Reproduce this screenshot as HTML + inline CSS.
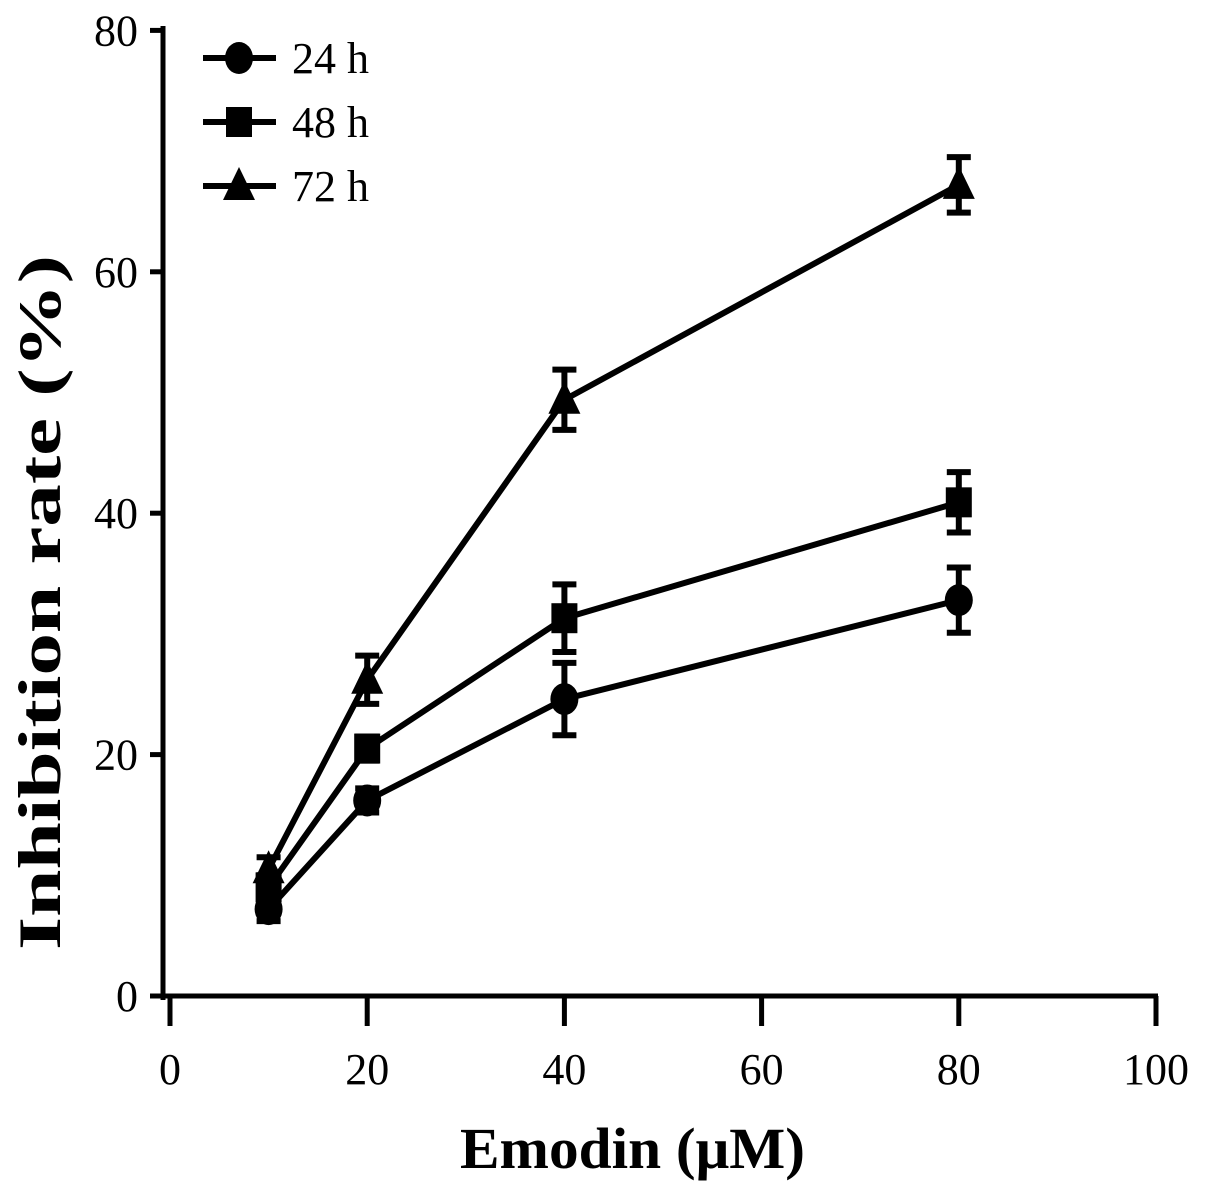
<!DOCTYPE html>
<html><head><meta charset="utf-8"><style>
html,body{margin:0;padding:0;background:#fff;}
svg text{font-family:"Liberation Serif",serif;fill:#000;}
</style></head><body>
<svg id="chart" width="1205" height="1192" viewBox="0 0 1205 1192" xmlns="http://www.w3.org/2000/svg">
<g id="axes"></g><g id="series"></g><g id="legend"></g>
</svg>
<script>
const xCats = [10, 20, 40, 80];
const series24 = [7.2, 16.2, 24.6, 32.8];
const err24 = [1.0, 1.0, 3.0, 2.7];
const series48 = [9.0, 20.5, 31.3, 40.9];
const err48 = [1.0, 1.0, 2.8, 2.5];
const series72 = [10.5, 26.2, 49.4, 67.2];
const err72 = [1.0, 2.0, 2.5, 2.3];
const xTicks = [0, 20, 40, 60, 80, 100];
const yTicks = [0, 20, 40, 60, 80];
const seriesNames = ["24 h", "48 h", "72 h"];

const NS = "http://www.w3.org/2000/svg";
const X = v => 170 + v * 9.86;
const Y = v => 996 - v * 12.07;
function mk(tag, attrs, parent, txt){const e=document.createElementNS(NS,tag);for(const k in attrs)e.setAttribute(k,attrs[k]);if(txt!==undefined)e.textContent=txt;parent.appendChild(e);return e;}
const axes = document.getElementById('axes');
let a = mk('line',{x1:163,y1:26,x2:163,y2:1000,stroke:'#000','stroke-width':5},axes);
 
a = mk('line',{x1:150,y1:996,x2:1158,y2:996,stroke:'#000','stroke-width':5},axes);
 
yTicks.forEach(t=>{
  const y=Y(t);
  const l=mk('line',{x1:150,y1:y,x2:163,y2:y,stroke:'#000','stroke-width':5},axes);
   
  const tx=mk('text',{x:138,y:y+15,'text-anchor':'end','font-size':44},axes,String(t));
   
});
xTicks.forEach(t=>{
  const x=X(t);
  const l=mk('line',{x1:x,y1:996,x2:x,y2:1026,stroke:'#000','stroke-width':5},axes);
   
  const tx=mk('text',{x:x,y:1084,'text-anchor':'middle','font-size':44},axes,String(t));
   
});
let tt=mk('text',{x:460,y:1168,'font-size':58,'font-weight':'bold',textLength:345,lengthAdjust:'spacingAndGlyphs'},axes,'Emodin (μM)');
 
tt=mk('text',{x:0,y:0,'font-size':60,'font-weight':'bold',textLength:695,lengthAdjust:'spacingAndGlyphs',transform:'translate(60,950) rotate(-90)'},axes,'Inhibition rate (%)');
 

function marker(shape,x,y,g){
  let m;
  if(shape===0) m=mk('ellipse',{cx:x,cy:y,rx:14,ry:16,fill:'#000'},g);
  else if(shape===1) m=mk('rect',{x:x-13,y:y-15,width:26,height:30,fill:'#000'},g);
  else m=mk('polygon',{points:`${x},${y-19} ${x+16},${y+14} ${x-16},${y+14}`,fill:'#000'},g);
  return m;
}
const seriesG=document.getElementById('series');
[[series24,err24],[series48,err48],[series72,err72]].forEach(([vals,errs],si)=>{
  const g=mk('g',{},seriesG);
  
  
  const pts=vals.map((v,i)=>X(xCats[i])+','+Y(v)).join(' ');
  const pl=mk('polyline',{points:pts,fill:'none',stroke:'#000','stroke-width':6},g);
   
  vals.forEach((v,i)=>{
    const x=X(xCats[i]);
    const eb=mk('path',{d:`M${x},${Y(v+errs[i])}V${Y(v-errs[i])}M${x-12},${Y(v+errs[i])}H${x+12}M${x-12},${Y(v-errs[i])}H${x+12}`,stroke:'#000','stroke-width':6,fill:'none'},g);
     
    const m=marker(si,x,Y(v),g);
     
  });
});
const lg=document.getElementById('legend');
 
seriesNames.forEach((n,i)=>{
  const y=58+i*64;
  const g=mk('g',{},lg);
   
  mk('line',{x1:203,y1:y,x2:276,y2:y,stroke:'#000','stroke-width':6},g);
  marker(i,239,y,g);
  mk('text',{x:292,y:y+15,'font-size':44},g,n);
});
</script>
</body></html>
